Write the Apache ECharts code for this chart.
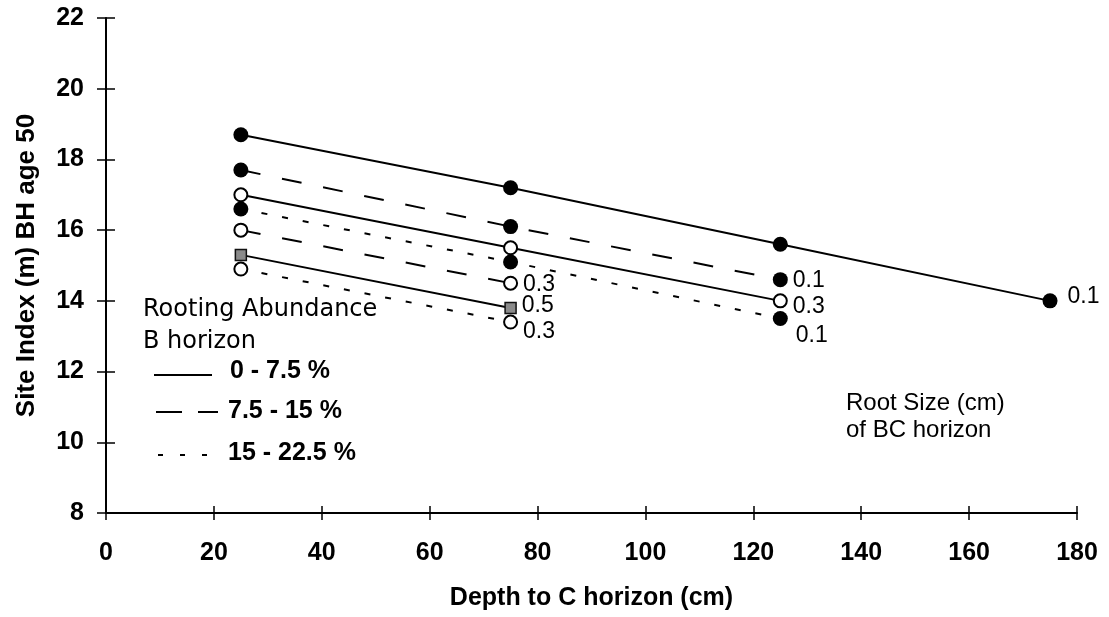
<!DOCTYPE html>
<html>
<head>
<meta charset="utf-8">
<script src="https://cdn.jsdelivr.net/npm/echarts@6/dist/echarts.min.js"></script>
<style>
  html, body { margin: 0; padding: 0; background: #fff; }
  #chart { width: 1109px; height: 617px; }
</style>
</head>
<body>
<div id="chart"></div>
<script>
// ---- data ----
const depths = [25, 75, 125, 175];
const solidFilled = [18.7, 17.2, 15.6, 14.0];
const dashedFilled = [17.7, 16.1, 14.6];
const solidOpen = [17.0, 15.5, 14.0];
const dottedFilled = [16.6, 15.1, 13.5];
const dashedOpen = [16.0, 14.5];
const solidSquare = [15.3, 13.8];
const dottedOpen = [14.9, 13.4];
const rootSizeLabels = ['0.1', '0.1', '0.3', '0.1', '0.3', '0.5', '0.3'];
const abundanceClasses = ['0 - 7.5 %', '7.5 - 15 %', '15 - 22.5 %'];
const xTitle = 'Depth to C horizon (cm)';
const yTitle = 'Site Index (m) BH age 50';

// ---- styles ----
const FONT = '"Liberation Sans", Arial, sans-serif';
const WIDE = '"DejaVu Sans", sans-serif';
const DASH = [20, 22];
const DOT = [6, 15];
const seriesValues = [solidFilled, dashedFilled, solidOpen, dottedFilled, dashedOpen, solidSquare, dottedOpen];
const seriesClass = [0, 1, 0, 2, 1, 0, 2];
const lineTypes = ['solid', DASH, DOT];
const markerKinds = ['filled', 'filled', 'open', 'filled', 'open', 'square', 'open'];
const labelOffsets = [[5, -4], [0, 1], [0, 6], [3, 17], [0, 1], [0, -2], [0, 10]];

function markerStyle(kind) {
  if (kind === 'filled') return { symbol: 'circle', symbolSize: 15, itemStyle: { color: '#000', borderColor: '#000', borderWidth: 0 } };
  if (kind === 'open') return { symbol: 'circle', symbolSize: 13, itemStyle: { color: '#fff', borderColor: '#000', borderWidth: 2 } };
  return { symbol: 'rect', symbolSize: 11, itemStyle: { color: '#8a8a8a', borderColor: '#111', borderWidth: 1.5 } };
}

const series = seriesValues.map((vals, si) => {
  const m = markerStyle(markerKinds[si]);
  const data = vals.map((v, i) => {
    const pt = { value: [depths[i], v] };
    if (i === vals.length - 1) {
      pt.label = {
        show: true,
        position: 'right',
        distance: 5,
        offset: labelOffsets[si],
        formatter: rootSizeLabels[si],
        color: '#000',
        fontFamily: FONT,
        fontSize: 23
      };
    }
    return pt;
  });
  return {
    type: 'line',
    name: abundanceClasses[seriesClass[si]],
    data: data,
    symbol: m.symbol,
    symbolSize: m.symbolSize,
    itemStyle: m.itemStyle,
    lineStyle: { color: '#000', width: 2, type: lineTypes[seriesClass[si]] },
    label: { show: false },
    emphasis: { disabled: true },
    animation: false,
    z: 3 + si
  };
});

const chart = echarts.init(document.getElementById('chart'), null, { renderer: 'canvas' });

const axisCommon = {
  axisLine: { show: true, onZero: false, lineStyle: { color: '#000', width: 2 } },
  splitLine: { show: false },
  axisLabel: { color: '#000', fontFamily: FONT, fontSize: 25, fontWeight: 'bold' },
  nameTextStyle: { color: '#000', fontFamily: FONT, fontSize: 25, fontWeight: 'bold' }
};

const graphic = [
  { type: 'text', left: 143, top: 298, style: { text: 'Rooting Abundance', font: '24px ' + WIDE, fill: '#000' } },
  { type: 'text', left: 143, top: 330, style: { text: 'B horizon', font: '24px ' + WIDE, fill: '#000' } },
  { type: 'line', shape: { x1: 154, y1: 375, x2: 212, y2: 375 }, style: { stroke: '#000', lineWidth: 2 } },
  { type: 'line', shape: { x1: 156, y1: 412, x2: 218, y2: 412 }, style: { stroke: '#000', lineWidth: 2, lineDash: [26, 16] } },
  { type: 'line', shape: { x1: 158, y1: 455, x2: 207, y2: 455 }, style: { stroke: '#000', lineWidth: 2, lineDash: [5, 17] } },
  { type: 'text', left: 230, top: 359, style: { text: abundanceClasses[0], font: 'bold 25px ' + FONT, fill: '#000' } },
  { type: 'text', left: 228, top: 399, style: { text: abundanceClasses[1], font: 'bold 25px ' + FONT, fill: '#000' } },
  { type: 'text', left: 228, top: 441, style: { text: abundanceClasses[2], font: 'bold 25px ' + FONT, fill: '#000' } },
  { type: 'text', left: 846, top: 391, style: { text: 'Root Size (cm)', font: '24px ' + FONT, fill: '#000' } },
  { type: 'text', left: 846, top: 418, style: { text: 'of BC horizon', font: '24px ' + FONT, fill: '#000' } }
];

const option = {
  backgroundColor: '#fff',
  animation: false,
  grid: { left: 106, right: 32, top: 18, bottom: 104, containLabel: false },
  xAxis: [
    Object.assign({}, axisCommon, {
      type: 'value', min: 0, max: 180, interval: 20,
      name: xTitle, nameLocation: 'middle', nameGap: 73,
      axisTick: { show: true, inside: false, length: 7, lineStyle: { color: '#000', width: 1.5 } },
      axisLabel: Object.assign({}, axisCommon.axisLabel, { margin: 28 })
    }),
    {
      type: 'value', min: 0, max: 180, interval: 20, position: 'bottom',
      axisLine: { show: false }, splitLine: { show: false }, axisLabel: { show: false },
      axisTick: { show: true, inside: true, length: 7, lineStyle: { color: '#000', width: 1.5 } }
    }
  ],
  yAxis: [
    Object.assign({}, axisCommon, {
      type: 'value', min: 8, max: 22, interval: 2,
      name: yTitle, nameLocation: 'middle', nameGap: 66, nameRotate: 90,
      nameTextStyle: Object.assign({}, axisCommon.nameTextStyle, { fontSize: 26 }),
      axisTick: { show: true, inside: false, length: 9, lineStyle: { color: '#000', width: 1.5 } },
      axisLabel: Object.assign({}, axisCommon.axisLabel, { margin: 22 })
    }),
    {
      type: 'value', min: 8, max: 22, interval: 2, position: 'left',
      axisLine: { show: false }, splitLine: { show: false }, axisLabel: { show: false },
      axisTick: { show: true, inside: true, length: 9, lineStyle: { color: '#000', width: 1.5 } }
    }
  ],
  series: series,
  graphic: graphic
};

chart.setOption(option);
</script>
</body>
</html>
